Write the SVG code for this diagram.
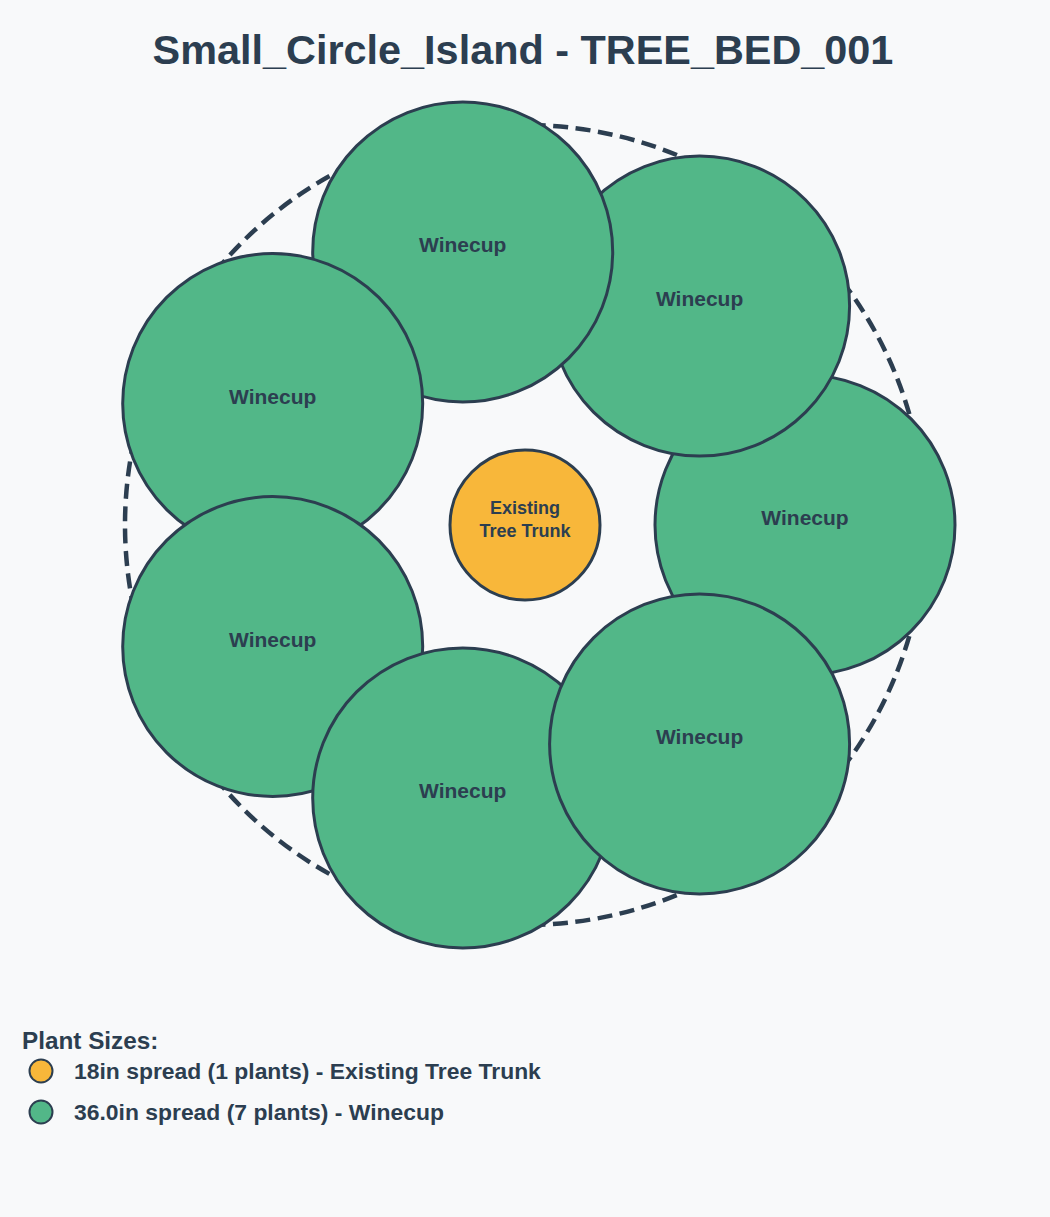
<svg xmlns="http://www.w3.org/2000/svg" width="1050" height="1217" viewBox="0 0 1050 1217">
<style>
.bg{fill:#f8f9fa}
.title{font-family:"Liberation Sans",Arial,sans-serif;font-weight:bold;font-size:41.4px;fill:#2c3e50;text-anchor:middle}
.plant{fill:#52b788;stroke:#2c3e50;stroke-width:3}
.trunk{fill:#f8b73a;stroke:#2c3e50;stroke-width:3}
.lbl{font-family:"Liberation Sans",Arial,sans-serif;font-weight:bold;font-size:21px;fill:#2c3e50;text-anchor:middle}
.tlbl{font-family:"Liberation Sans",Arial,sans-serif;font-weight:bold;font-size:18px;fill:#2c3e50;text-anchor:middle}
.bed{fill:none;stroke:#2c3e50;stroke-width:4.5;stroke-dasharray:15 7.5}
.lh{font-family:"Liberation Sans",Arial,sans-serif;font-weight:bold;font-size:24.3px;fill:#2c3e50}
.li{font-family:"Liberation Sans",Arial,sans-serif;font-weight:bold;font-size:22.9px;fill:#2c3e50}
.sw{stroke:#2c3e50;stroke-width:2}
</style>
<rect class="bg" x="0" y="0" width="1050" height="1217"/>
<text class="title" x="523" y="64">Small_Circle_Island - TREE_BED_001</text>
<g id="connectors">
<circle id="bed-outline" class="bed" cx="525" cy="525" r="400"/>
</g>
<g id="plant-0"><circle class="plant" cx="805" cy="525" r="150"/><text class="lbl" x="805" y="525">Winecup</text></g>
<g id="plant-1"><circle class="plant" cx="699.6" cy="306.1" r="150"/><text class="lbl" x="699.6" y="306.1">Winecup</text></g>
<g id="plant-2"><circle class="plant" cx="462.7" cy="252" r="150"/><text class="lbl" x="462.7" y="252">Winecup</text></g>
<g id="plant-3"><circle class="plant" cx="272.7" cy="403.5" r="150"/><text class="lbl" x="272.7" y="403.5">Winecup</text></g>
<g id="plant-4"><circle class="plant" cx="272.7" cy="646.5" r="150"/><text class="lbl" x="272.7" y="646.5">Winecup</text></g>
<g id="plant-5"><circle class="plant" cx="462.7" cy="798" r="150"/><text class="lbl" x="462.7" y="798">Winecup</text></g>
<g id="plant-6"><circle class="plant" cx="699.6" cy="743.9" r="150"/><text class="lbl" x="699.6" y="743.9">Winecup</text></g>
<g id="tree-trunk"><circle class="trunk" cx="525" cy="525" r="75"/><text class="tlbl" x="525" y="513.5">Existing</text><text class="tlbl" x="525" y="536.5">Tree Trunk</text></g>
<g id="legend">
<text class="lh" x="22" y="1049">Plant Sizes:</text>
<circle class="sw" cx="41" cy="1071" r="11.5" fill="#f8b73a"/>
<text class="li" x="74" y="1079">18in spread (1 plants) - Existing Tree Trunk</text>
<circle class="sw" cx="41" cy="1112" r="11.5" fill="#52b788"/>
<text class="li" x="74" y="1120">36.0in spread (7 plants) - Winecup</text>
</g>
</svg>
